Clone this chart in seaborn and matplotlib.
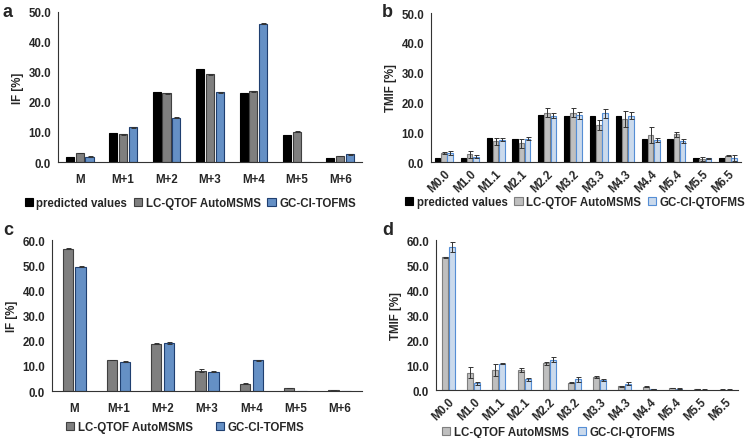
import numpy as np
import pandas as pd
import seaborn as sns
import matplotlib.pyplot as plt

# data
cats_if = ['M', 'M+1', 'M+2', 'M+3', 'M+4', 'M+5', 'M+6']
cats_tmif = ['M0.0', 'M1.0', 'M1.1', 'M2.1', 'M2.2', 'M3.2', 'M3.3', 'M4.3', 'M4.4', 'M5.4', 'M5.5', 'M6.5']

# panel a
a_pred = [1.6, 9.5, 23.4, 31.1, 22.9, 9.1, 1.5]
a_lc = [3.0, 9.2, 22.9, 29.2, 23.6, 10.1, 2.0]
a_gc = [1.8, 11.6, 14.7, 23.2, 46.1, 0.0, 2.6]
a_lc_sd = [0.15, 0.2, 0.15, 0.15, 0.15, 0.15, 0.1]
a_gc_sd = [0.15, 0.2, 0.15, 0.15, 0.2, 0.0, 0.15]

# panel b
b_pred = [1.5, 1.5, 8.0, 7.8, 15.9, 15.6, 15.6, 15.4, 7.8, 7.6, 1.5, 1.5]
b_lc = [3.0, 2.6, 7.0, 6.3, 16.5, 16.5, 12.5, 14.4, 9.0, 9.3, 1.0, 2.1]
b_gc = [3.1, 1.8, 7.5, 7.8, 15.6, 15.7, 16.3, 15.6, 7.5, 7.0, 1.2, 1.3]
b_lc_sd = [0.2, 1.2, 1.2, 1.5, 1.5, 1.5, 1.6, 2.7, 2.6, 0.8, 0.8, 0.2]
b_gc_sd = [0.7, 0.5, 0.6, 0.5, 1.0, 1.2, 1.4, 1.3, 0.7, 0.7, 0.3, 0.9]

# panel c
c_lc = [56.6, 12.3, 18.8, 8.1, 2.9, 1.2, 0.3]
c_gc = [49.4, 11.7, 19.1, 7.7, 12.3, 0.0, 0.0]
c_lc_sd = [0.3, 0.15, 0.3, 0.5, 0.3, 0.15, 0.05]
c_gc_sd = [0.2, 0.15, 0.3, 0.1, 0.2, 0.0, 0.0]

# panel d
d_lc = [53.1, 6.9, 8.2, 8.1, 10.7, 2.9, 5.2, 1.6, 1.4, 0.8, 0.5, 0.2]
d_gc = [57.3, 2.7, 10.5, 4.3, 12.1, 4.3, 4.0, 2.6, 0.4, 0.6, 0.2, 0.2]
d_lc_sd = [0.2, 2.2, 2.4, 0.9, 0.6, 0.2, 0.3, 0.2, 0.1, 0.1, 0.05, 0.05]
d_gc_sd = [2.0, 0.6, 0.2, 0.7, 1.0, 1.1, 0.3, 0.5, 0.1, 0.2, 0.05, 0.05]

sns.set_style('white')
plt.rcParams['font.family'] = ['Liberation Sans', 'DejaVu Sans']
plt.rcParams['font.weight'] = 'bold'
plt.rcParams['font.size'] = 8.3

fig = plt.figure(figsize=(7.46, 4.39), dpi=100)
ax_a = fig.add_axes([0.0777, 0.6287, 0.4075, 0.3417])
ax_b = fig.add_axes([0.5777, 0.6287, 0.4155, 0.3394])
ax_c = fig.add_axes([0.0697, 0.1070, 0.4155, 0.3440])
ax_d = fig.add_axes([0.5845, 0.1093, 0.4048, 0.3417])


def long_df(cats, series):
    rows = []
    for name, vals in series.items():
        for c, v in zip(cats, vals):
            rows.append({'cat': c, 'src': name, 'val': v})
    return pd.DataFrame(rows)


def panel(ax, cats, series, colors, edges, sds, width, gap, ymax, ylabel, rot):
    df = long_df(cats, series)
    sns.barplot(data=df, x='cat', y='val', hue='src', order=cats,
                hue_order=list(series.keys()), palette=colors,
                width=width, gap=gap, errorbar=None, linewidth=0.8, ax=ax)
    for cont, ec, sd in zip(ax.containers, edges, sds):
        for p in cont.patches:
            p.set_edgecolor(ec)
        if sd is None:
            continue
        xs = np.array([p.get_x() + p.get_width() / 2 for p in cont.patches])
        hs = np.array([p.get_height() for p in cont.patches])
        sd = np.array(sd)
        m = hs > 0
        ax.errorbar(xs[m], hs[m], yerr=sd[m], fmt='none', ecolor='#333333',
                    elinewidth=0.7, capsize=1.8, capthick=0.7)
    ax.set_xlim(-0.5, len(cats) - 0.5)
    ax.set_ylim(0, ymax)
    ax.set_yticks(np.arange(0, ymax + 0.1, 10))
    ax.set_yticklabels(['%.1f' % t for t in np.arange(0, ymax + 0.1, 10)], fontweight='bold')
    ax.set_xticks(np.arange(len(cats)))
    if rot:
        ax.set_xticklabels(cats, rotation=45, ha='right', rotation_mode='anchor', fontweight='bold')
    else:
        ax.set_xticklabels(cats, fontweight='bold')
    ax.set_xticks(np.arange(-0.5, len(cats)), minor=True)
    ax.tick_params(axis='x', which='major', length=0, pad=8 if not rot else 4)
    ax.tick_params(axis='x', which='minor', length=5, width=0.8, direction='inout', color='#333333')
    ax.tick_params(axis='y', length=3, width=0.8, direction='out', color='#333333', pad=2)
    ax.set_xlabel('')
    ax.set_ylabel(ylabel, fontweight='bold', labelpad=3)
    for s in ['top', 'right']:
        ax.spines[s].set_visible(False)
    for s in ['left', 'bottom']:
        ax.spines[s].set_color('#333333')
        ax.spines[s].set_linewidth(0.8)
    h, l = ax.get_legend_handles_labels()
    ax.get_legend().remove()
    for hh, ec in zip(h, edges):
        hh.set_edgecolor(ec)
        hh.set_linewidth(0.8)
    return h, l


leg_kw = dict(loc='center', frameon=False, handlelength=0.7, handleheight=0.7,
              handletextpad=0.3, borderpad=0)

# panel a
h, l = panel(ax_a, cats_if,
             {'predicted values': a_pred, 'LC-QTOF AutoMSMS': a_lc, 'GC-CI-TOFMS': a_gc},
             ['#000000', '#7f7f7f', '#558ed5'], ['#000000', '#404040', '#1f3f70'],
             [None, a_lc_sd, a_gc_sd], 0.68, 0.18, 50, 'IF [%]', False)
fig.legend(h, l, bbox_to_anchor=(0.255, 0.535), ncol=3, columnspacing=0.6, **leg_kw)

# panel b
h, l = panel(ax_b, cats_tmif,
             {'predicted values': b_pred, 'LC-QTOF AutoMSMS': b_lc, 'GC-CI-QTOFMS': b_gc},
             ['#000000', '#bfbfbf', '#c6d9f1'], ['#000000', '#7f7f7f', '#558ed5'],
             [None, b_lc_sd, b_gc_sd], 0.72, 0.1, 50, 'TMIF [%]', True)
fig.legend(h, l, bbox_to_anchor=(0.771, 0.538), ncol=3, columnspacing=0.6, **leg_kw)

# panel c
h, l = panel(ax_c, cats_if,
             {'LC-QTOF AutoMSMS': c_lc, 'GC-CI-TOFMS': c_gc},
             ['#7f7f7f', '#558ed5'], ['#404040', '#1f3f70'],
             [c_lc_sd, c_gc_sd], 0.58, 0.2, 60, 'IF [%]', False)
fig.legend(h, l, bbox_to_anchor=(0.248, 0.025), ncol=2, columnspacing=2.0, **leg_kw)

# panel d
h, l = panel(ax_d, cats_tmif,
             {'LC-QTOF AutoMSMS': d_lc, 'GC-CI-QTOFMS': d_gc},
             ['#bfbfbf', '#c6d9f1'], ['#7f7f7f', '#558ed5'],
             [d_lc_sd, d_gc_sd], 0.56, 0.15, 60, 'TMIF [%]', True)
fig.legend(h, l, bbox_to_anchor=(0.749, 0.014), ncol=2, columnspacing=0.8, **leg_kw)

# panel letters
for x, y, t in [(0.004, 0.99, 'a'), (0.512, 0.99, 'b'), (0.004, 0.495, 'c'), (0.512, 0.495, 'd')]:
    fig.text(x, y, t, fontsize=13, fontweight='bold', va='top', ha='left')

fig.savefig('out.png', dpi=100)
